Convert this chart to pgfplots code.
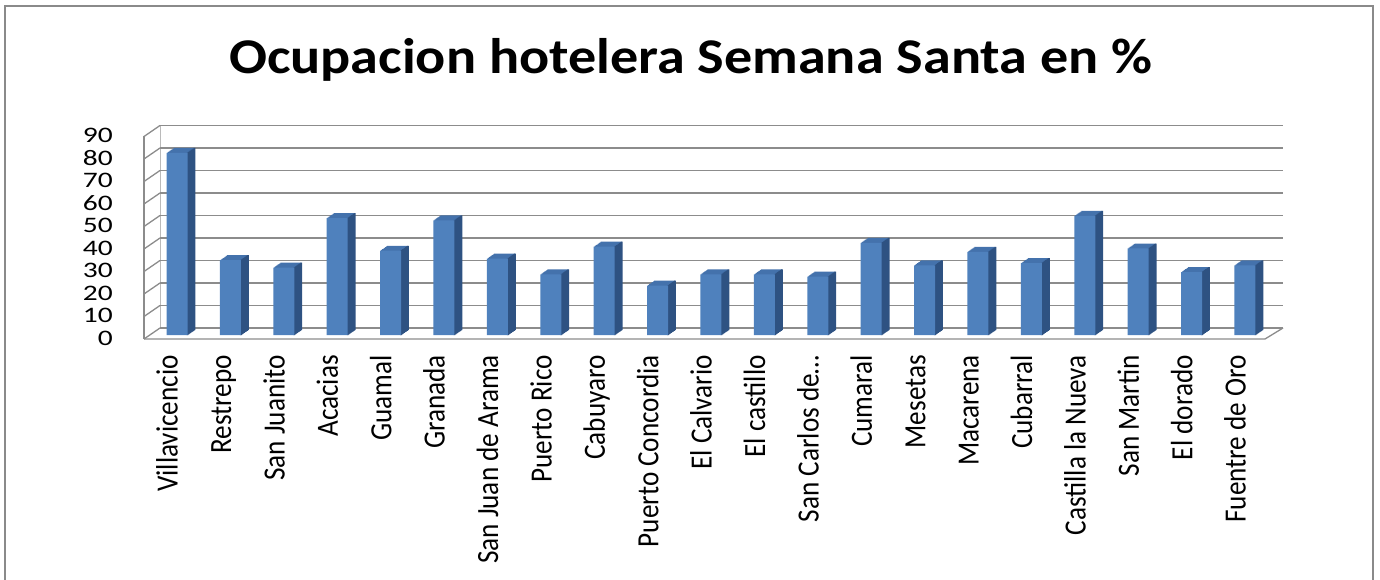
\documentclass[border=0pt]{standalone}
\usepackage{pgfplots}
\pgfplotsset{compat=1.18}
\usepackage{pgfplotstable}
\usepackage{fontspec}
\setmainfont{Carlito}
\definecolor{front}{HTML}{4F81BD}
\definecolor{side}{HTML}{2E5282}
\definecolor{topc}{HTML}{4472AC}
\definecolor{gridc}{HTML}{8C8C8C}
\definecolor{framec}{HTML}{8A8A8A}
\pgfplotstableread{
x y
0 81
1 33.3
2 30
3 52
4 37.5
5 51
6 34
7 27
8 39.3
9 22
10 27
11 27
12 26
13 41
14 31
15 37
16 32
17 53
18 38.5
19 28
20 31
}\occ
\newcommand\sq[1]{\scalebox{0.88}[1]{#1}}
\begin{document}
\begin{tikzpicture}
\useasboundingbox (0bp,0bp) rectangle (1380bp,580bp);
% chart frame
\draw[framec, line width=2bp] (5bp,-10bp) -- (5bp,574bp) -- (1373bp,574bp) -- (1373bp,-10bp);
% title
\node[anchor=base, inner sep=0pt, font=\fontsize{56.4}{60}\selectfont\bfseries] at (690.5bp,506bp)
  {\scalebox{1}[0.89]{Ocupacion hotelera Semana Santa en \%}};
% floor and left wall outline
\draw[gridc, line width=1.3bp] (144bp,241bp) -- (1265bp,241bp) -- (1283bp,252bp);
\draw[gridc, line width=1.3bp] (144bp,241bp) -- (144bp,443.5bp);
\draw[gridc!60, line width=0.8bp] (160bp,252bp) -- (160bp,454.5bp);
\foreach \v in {0,10,...,90}
  \draw[gridc, line width=1.3bp] (144bp,{(241+2.25*\v)*1bp}) -- (160bp,{(252+2.25*\v)*1bp});
% back wall with gridlines
\begin{axis}[at={(160bp,252bp)}, anchor=south west, scale only axis,
  width=1123bp, height=202.5bp, xmin=0, xmax=1, ymin=0, ymax=90,
  ytick={0,10,...,90}, yticklabels={}, xtick=\empty,
  ymajorgrids, grid style={gridc, line width=1.4bp},
  axis line style={draw=none}, tick style={draw=none}]
\end{axis}
% bars
\begin{axis}[at={(144bp,245bp)}, anchor=south west, scale only axis,
  width=1121bp, height=202.5bp,
  xmin=-0.618, xmax=20.375, ymin=0, ymax=90, clip=false,
  axis line style={draw=none}, tick style={draw=none},
  /pgf/number format/assume math mode=true,
  ytick={0,10,...,90},
  yticklabel={\scalebox{1}[0.75]{\pgfmathprintnumber{\tick}}},
  yticklabel style={anchor=east, inner sep=0pt, font=\fontsize{29.6}{30}\selectfont, xshift=-31bp, yshift=-3bp},
  xtick={0,...,20},
  xticklabels={\sq{Villavicencio},\sq{Restrepo},\sq{San Juanito},\sq{Acacias},\sq{Guamal},\sq{Granada},\sq{San Juan de Arama},\sq{Puerto Rico},\sq{Cabuyaro},\sq{Puerto Concordia},\sq{El Calvario},\sq{El castillo},\sq{San Carlos de…},\sq{Cumaral},\sq{Mesetas},\sq{Macarena},\sq{Cubarral},\sq{Castilla la Nueva},\sq{San Martin},\sq{El dorado},\sq{Fuentre de Oro}},
  xticklabel style={xshift=-1.75bp, yshift=-20bp, rotate=90, anchor=east, inner sep=0pt,
     text height=0.75em, text depth=0.25em, font=\fontsize{31}{32}\selectfont},
]
\pgfplotsinvokeforeach{7,6,5,4,3,2,1}{
  \addplot[ybar, bar width=21bp, bar shift=#1bp, fill=topc, draw=none, yshift={0.69*#1bp}] table[x=x,y=y]{\occ};
}
\pgfplotsinvokeforeach{0,1,2,3,4,5,6,7}{
  \addplot[ybar, bar width=1.8bp, bar shift={10.5bp+#1bp}, fill=side, draw=none, yshift={0.69*#1bp}] table[x=x,y=y]{\occ};
}
\addplot[ybar, bar width=21bp, bar shift=0bp, fill=front, draw=none] table[x=x,y=y]{\occ};
\end{axis}
\end{tikzpicture}
\end{document}
